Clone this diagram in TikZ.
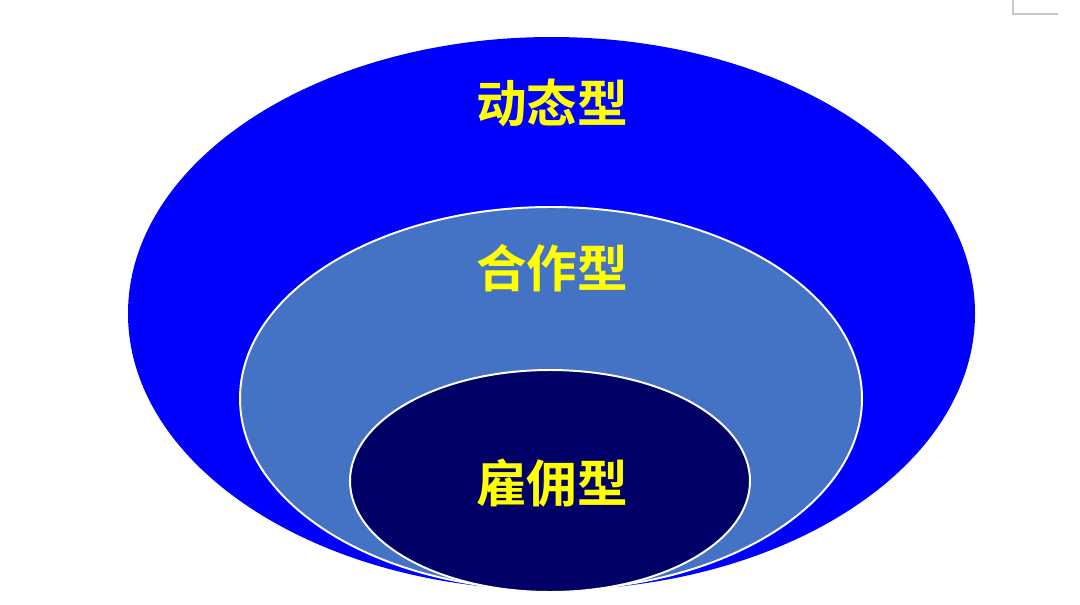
\documentclass[tikz,border=0pt]{standalone}
\usepackage{fontspec}
\usepackage{tikz}
\usetikzlibrary{positioning}
\newfontfamily\cjk{Noto Sans CJK SC}[BoldFont={Noto Sans CJK SC Bold}]
\definecolor{OuterBlue}{RGB}{0,0,255}
\definecolor{MidBlue}{RGB}{68,114,196}
\definecolor{CoreNavy}{RGB}{0,0,102}
\definecolor{LabelYellow}{RGB}{255,255,0}
\definecolor{MarkGray}{RGB}{200,200,200}
\tikzset{
  typelabel/.style={text=LabelYellow,font=\cjk\bfseries\fontsize{36}{40}\selectfont,inner sep=0pt},
  ring/.style={draw=white,line width=1.4pt}
}

\begin{document}
\begin{tikzpicture}[x=0.025cm,y=-0.025cm]
      \useasboundingbox (0,0) rectangle (1080,605);
      % three nested types
      \fill[OuterBlue] (551.5,313.5) ellipse (423.5 and 276.5);
      \filldraw[MidBlue,ring] (551,398.5) ellipse (311 and 191.5);
      \filldraw[CoreNavy,ring] (550,481) ellipse (200 and 111);
      \node[typelabel] (dyn) at (552,103) {动态型};
      \node[typelabel] (coop) at (552,268) {合作型};
      \node[typelabel] (hire) at (552,483) {雇佣型};
      % corner mark
      \draw[MarkGray,line width=0.8pt] (1013,0)--(1013,14)--(1058,14);
    \end{tikzpicture}
\end{document}
